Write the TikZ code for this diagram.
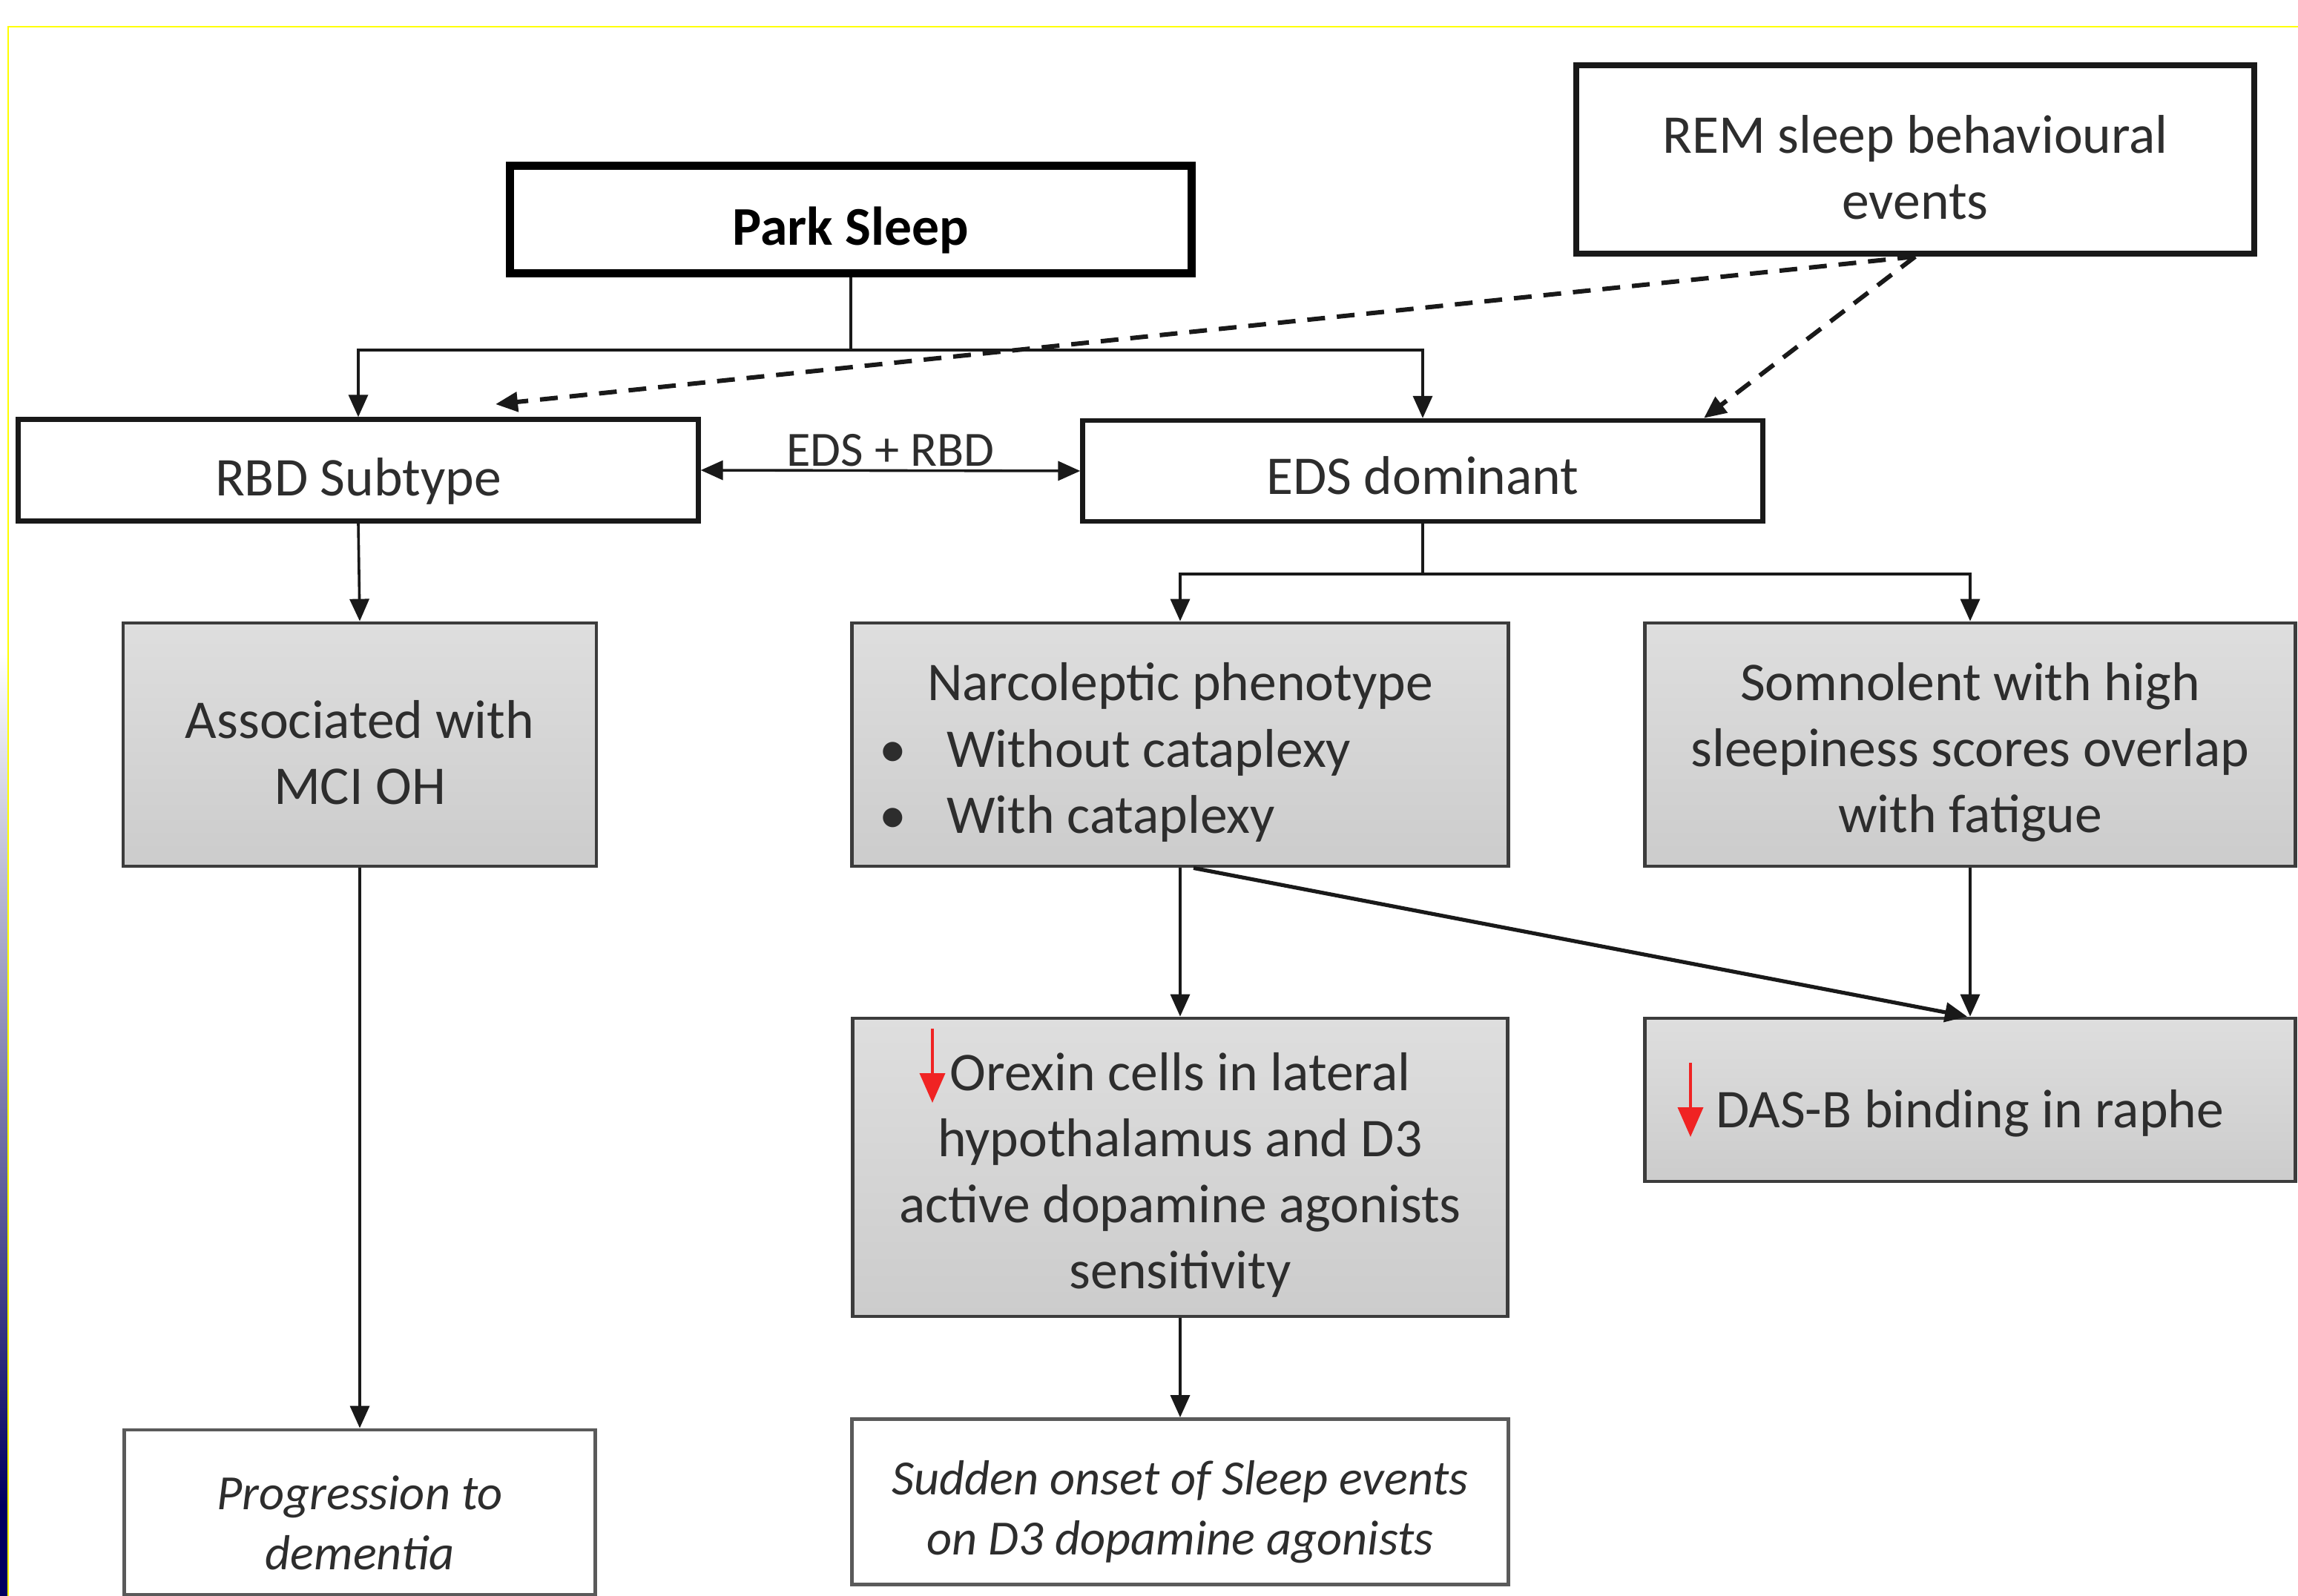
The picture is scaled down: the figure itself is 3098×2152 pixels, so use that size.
\documentclass[tikz,border=0pt]{standalone}
\usepackage{fontspec}
\setmainfont{Carlito}
\usetikzlibrary{arrows.meta,calc}

\definecolor{txtgray}{RGB}{45,45,45}
\definecolor{graytop}{RGB}{222,222,222}
\definecolor{graybot}{RGB}{204,204,204}
\definecolor{boxedge}{RGB}{60,60,60}
\definecolor{endedge}{RGB}{90,90,90}
\definecolor{linkcol}{RGB}{25,25,25}
\definecolor{markred}{RGB}{240,35,35}
\definecolor{frameyellow}{RGB}{255,255,0}
\definecolor{stripnavy}{RGB}{0,0,95}

\newcommand{\topgap}[1]{\rule{0pt}{#1}}

\begin{document}
\begin{tikzpicture}[x=0.25pt,y=0.25pt,yscale=-1,xscale=1,
  every node/.style={font=\fontsize{18.4}{22.3}\selectfont, text=txtgray},
  whitebox/.style={draw=linkcol, fill=white, line width=1.6pt, align=center, inner sep=0pt},
  graybox/.style={draw=boxedge, line width=1.2pt, top color=graytop, bottom color=graybot, align=center, inner sep=0pt},
  endbox/.style={draw=endedge, fill=white, line width=1.2pt, align=center, inner sep=0pt, font=\fontsize{16.6}{20.3}\selectfont\itshape},
  link/.style={draw=linkcol, line width=0.9pt, -{Triangle[length=7.5pt,width=6.5pt]}},
  dashlink/.style={link, line width=1.5pt, dash pattern=on 6pt off 4pt},
  downmark/.style={draw=markred, line width=1pt, -{Triangle[length=10pt,width=8.5pt]}}
]
\useasboundingbox (0,0) rectangle (3098,2152);

%Shape: Background
\fill[white] (0,0) rectangle (3098,2152);
\shade[top color=white, bottom color=stripnavy] (0,880) rectangle (10,2030);
\fill[stripnavy] (0,2030) rectangle (10,2152);
\draw[frameyellow, line width=0.6pt] (11,2152) -- (11,36) -- (3098,36);

% Text Node
\node[whitebox, line width=2.8pt, draw=black, minimum width=229.75pt, minimum height=36.25pt, text=black, font=\fontsize{18.4}{22.3}\selectfont\bfseries] (park) at (1147,296) {\topgap{20pt}Park Sleep};
% Text Node
\node[whitebox, line width=2pt, minimum width=228.5pt, minimum height=63.5pt] (rem) at (2582,215) {\topgap{18pt}REM sleep behavioural\\events};
% Text Node
\node[whitebox, minimum width=229.25pt, minimum height=34.25pt] (rbd) at (483,634) {\topgap{20pt}RBD Subtype};
% Text Node
\node[whitebox, minimum width=229.25pt, minimum height=34pt] (eds) at (1918,635) {\topgap{16pt}EDS dominant};

% Text Node
\node[graybox, minimum width=159.5pt, minimum height=82pt] (assoc) at (485,1004) {\topgap{18pt}Associated with\\MCI OH};
% Text Node
\node[graybox, text width=221.25pt, align=flush left, minimum height=82pt] (narc) at (1591,1004) {\makebox[221.25pt]{\topgap{18pt}Narcoleptic phenotype}\\
  \hspace*{9.3pt}\makebox[22.7pt][l]{\textbullet}Without cataplexy\\
  \hspace*{9.3pt}\makebox[22.7pt][l]{\textbullet}With cataplexy};
% Text Node
\node[graybox, minimum width=219.25pt, minimum height=82pt] (somn) at (2656,1004) {\topgap{18pt}Somnolent with high\\sleepiness scores overlap\\with fatigue};
% Text Node
\node[graybox, minimum width=220.75pt, minimum height=100.5pt] (orexin) at (1591,1574) {\topgap{18pt}Orexin cells in lateral\\hypothalamus and D3\\active dopamine agonists\\sensitivity};
% Text Node
\node[graybox, minimum width=219.25pt, minimum height=55pt] (dasb) at (2656,1483) {\topgap{22pt}DAS-B binding in raphe};

% Text Node
\node[endbox, minimum width=158.75pt, minimum height=55.5pt] (prog) at (485,2039) {\topgap{18.5pt}Progression to\\dementia};
% Text Node
\node[endbox, minimum width=221.25pt, minimum height=55.75pt] (sudden) at (1591,2025) {\topgap{18.5pt}Sudden onset of Sleep events\\on D3 dopamine agonists};

%Straight Lines
\coordinate (psplit) at ($(park.south)+(0,98)$);
\draw[draw=linkcol, line width=0.9pt] (park.south) -- (psplit);
\draw[link] (psplit) -| (rbd.north);
\draw[link] (psplit) -| (eds.north);

%Dashed Lines
\coordinate (remtip) at (668,545);
\draw[dashlink] (rem.south) -- (remtip);
\draw[dashlink] (rem.south) -- ($(eds.north)+(379,0)$);

%Straight Lines
\draw[link, {Triangle[length=7.5pt,width=6.5pt]}-{Triangle[length=7.5pt,width=6.5pt]}] (rbd.east) -- node[above, inner sep=1pt, font=\fontsize{16.6}{20}\selectfont] {EDS + RBD} (eds.west);

\coordinate (esplit) at ($(eds.south)+(0,68)$);
\draw[draw=linkcol, line width=0.9pt] (eds.south) -- (esplit);
\draw[link] (esplit) -| (narc.north);
\draw[link] (esplit) -| (somn.north);

\draw[link] (rbd.south) -- (assoc.north);
\draw[link] (assoc.south) -- (prog.north);
\draw[link] (narc.south) -- (orexin.north);
\draw[link, line width=1.3pt] ($(narc.south)+(18,0)$) -- ($(dasb.north)+(-4,0)$);
\draw[link] (somn.south) -- (dasb.north);
\draw[link] (orexin.south) -- (sudden.north);

%Red Arrows
\draw[downmark] (1257,1387) -- (1257,1487);
\draw[downmark] (2279,1433) -- (2279,1533);

\end{tikzpicture}
\end{document}
